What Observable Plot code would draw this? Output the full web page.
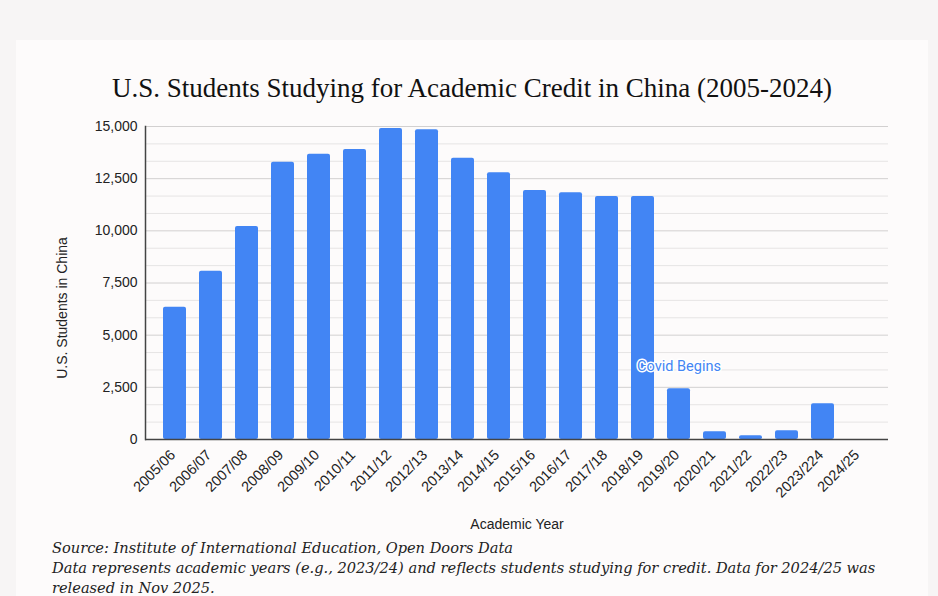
<!DOCTYPE html>
<html>
<head>
<meta charset="utf-8">
<script src="https://cdn.jsdelivr.net/npm/d3@7"></script>
<script src="https://cdn.jsdelivr.net/npm/@observablehq/plot@0.6"></script>
<style>
  html, body { margin: 0; padding: 0; background: #f7f5f5; width: 938px; height: 596px; overflow: hidden; }
  #card { position: absolute; left: 16px; top: 40px; width: 912px; height: 600px; background: #fdfbfb; }
  #title { position: absolute; left: 0; top: 32px; width: 912px; text-align: center; font-family: "Liberation Serif", serif; font-size: 27px; color: #111; line-height: 32px; }
  #chart { position: absolute; left: 0; top: 70px; }
  #caption { position: absolute; left: 36px; top: 498px; font-family: "DejaVu Serif", serif; font-style: italic; font-size: 14.6px; line-height: 20px; color: #222; white-space: nowrap; }
</style>
</head>
<body>
<div id="card">
  <div id="title">U.S. Students Studying for Academic Credit in China (2005-2024)</div>
  <div id="chart"></div>
  <div id="caption">Source: Institute of International Education, Open Doors Data<br>Data represents academic years (e.g., 2023/24) and reflects students studying for credit. Data for 2024/25 was<br>released in Nov 2025.</div>
</div>
<script>
const years = ["2005/06","2006/07","2007/08","2008/09","2009/10","2010/11","2011/12","2012/13","2013/14","2014/15","2015/16","2016/17","2017/18","2018/19","2019/20","2020/21","2021/22","2022/23","2023/224","2024/25"];
const students = [6340, 8065, 10207, 13289, 13672, 13897, 14904, 14842, 13480, 12781, 11933, 11822, 11645, 11645, 2430, 370, 177, 417, 1711, null];
const yTicks = [0, 2500, 5000, 7500, 10000, 12500, 15000];
const minorTicks = d3.range(0, 15001, 2500 / 3).filter(v => Math.abs(v / 2500 - Math.round(v / 2500)) > 1e-6);
const annotation = [{year: "2019/20", value: 3500, label: "Covid Begins"}];
const yLabel = "U.S. Students in China";
const xLabel = "Academic Year";

const data = years.map((y, i) => ({year: y, value: students[i]}));
const fmt = d3.format(",");

const chart = Plot.plot({
  width: 912,
  height: 425,
  marginLeft: 129,
  marginRight: 40,
  marginTop: 16,
  marginBottom: 96,
  style: {background: "transparent", fontFamily: "Liberation Sans, Arial, sans-serif", fontSize: "14px", color: "#222"},
  x: {domain: years, padding: 0.36, label: null},
  y: {domain: [0, 15000], ticks: yTicks, tickFormat: fmt, label: null, tickSize: 0, tickPadding: 8},
  marks: [
    Plot.ruleY(minorTicks, {stroke: "#e6e4e4", strokeWidth: 1}),
    Plot.ruleY(yTicks.slice(1), {stroke: "#d2d0d0", strokeWidth: 1}),
    Plot.barY(data.filter(d => d.value != null), {x: "year", y: "value", fill: "#4285f4", rx: 2}),
    Plot.ruleY([0], {stroke: "#444", strokeWidth: 1.5}),
    Plot.frame({anchor: "left", stroke: "#444", strokeWidth: 1.5}),
    Plot.axisX({tickRotate: -45, tickSize: 0, tickPadding: 13, dx: -2, fontSize: 14.5, label: null}),
    Plot.text(annotation, {x: "year", y: "value", text: "label", fill: "#4285f4", stroke: "white", strokeWidth: 3, fontSize: 14.5, fontFamily: "Roboto, sans-serif"}),
    Plot.text([yLabel], {frameAnchor: "left", rotate: -90, textAnchor: "middle", dx: -83, dy: 25, fill: "#222", fontSize: 14}),
    Plot.text([xLabel], {frameAnchor: "bottom", dy: 89, fill: "#222", fontSize: 14})
  ]
});
document.getElementById("chart").appendChild(chart);
</script>
</body>
</html>
